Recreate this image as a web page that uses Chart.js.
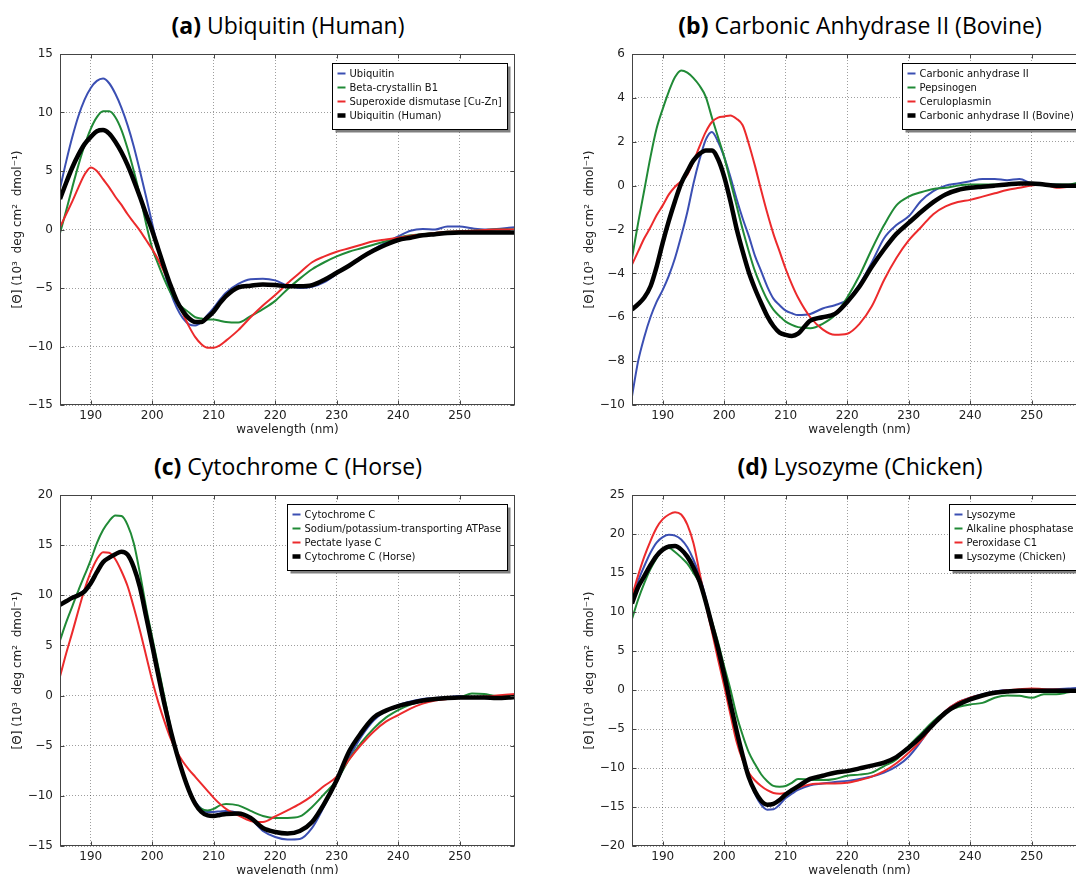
<!DOCTYPE html>
<html lang="en">
<head>
<meta charset="UTF-8">
<title>CD spectra comparison</title>
<script src="https://cdn.jsdelivr.net/npm/chart.js"></script>
<style>
  html, body {
    margin: 0;
    background: #fff;
    width: 1076px;
    height: 874px;
    overflow: hidden;
  }
  canvas {
    position: absolute;
    display: block;
  }
  .title {
    position: absolute;
    font-family: 'Open Sans', sans-serif;
    font-size: 23px;
    line-height: 30px;
    color: #000;
    white-space: nowrap;
    transform: translateX(-50%);
  }
  .title b { font-weight: 700; }
</style>
</head>
<body>
  <div class="title" style="left:288px; top:10px"><b>(a)</b> Ubiquitin (Human)</div>
  <div class="title" style="left:860px; top:10px"><b>(b)</b> Carbonic Anhydrase II (Bovine)</div>
  <div class="title" style="left:288px; top:451px"><b>(c)</b> Cytochrome C (Horse)</div>
  <div class="title" style="left:860px; top:451px"><b>(d)</b> Lysozyme (Chicken)</div>

  <canvas id="chartA" width="540" height="440" style="left:0; top:0"></canvas>
  <canvas id="chartB" width="540" height="440" style="left:572px; top:0"></canvas>
  <canvas id="chartC" width="540" height="440" style="left:0; top:441px"></canvas>
  <canvas id="chartD" width="540" height="440" style="left:572px; top:441px"></canvas>

  <script>
    // wavelength grid (nm), shared by every curve
    const wavelength = [
      185, 186, 187, 188, 189, 190, 191, 192, 193, 194, 195, 196, 197, 198,
      199, 200, 201, 202, 203, 204, 205, 206, 207, 208, 209, 210, 211, 212,
      214, 216, 218, 220, 222, 224, 226, 228, 230, 232, 234, 236, 238, 240,
      242, 244, 246, 248, 250, 252, 254, 256, 258, 259
    ];
    const xTicks = [190, 200, 210, 220, 230, 240, 250];

    // (a) Ubiquitin (Human)
    const ubiquitin = [
      3.5, 5.8, 7.9, 9.7, 11.1, 12.1, 12.7, 12.9, 12.5, 11.6, 10.4, 8.9, 7.1, 5.0,
      2.8, 0.5, -1.7, -3.7, -5.4, -6.7, -7.6, -8.1, -8.2, -7.9, -7.3, -6.7, -6.0, -5.4,
      -4.65, -4.25, -4.2, -4.35, -4.8, -5.0, -4.9, -4.5, -3.8, -3.1, -2.4, -1.7, -1.1, -0.6,
      -0.1, 0.05, 0.0, 0.25, 0.25, 0.1, 0.0, 0.05, 0.15, 0.2
    ];
    const betaCrystallin = [
      -0.3, 1.6, 3.6, 5.5, 7.2, 8.6, 9.6, 10.1, 10.1, 9.6, 8.5, 6.9, 5.0, 2.9,
      0.5, -1.6, -3.0, -4.3, -5.4, -6.2, -6.7, -7.1, -7.5, -7.6, -7.7, -7.7, -7.8, -7.9,
      -7.95, -7.4, -6.8, -6.1, -5.1, -4.2, -3.4, -2.8, -2.3, -1.9, -1.6, -1.3, -1.0, -0.7,
      -0.5, -0.4, -0.3, -0.2, -0.15, -0.1, -0.05, 0.0, 0.0, 0.0
    ];
    const superoxideDismutase = [
      0.2, 1.3, 2.4, 3.6, 4.7, 5.3, 5.0, 4.3, 3.6, 2.8, 2.1, 1.3, 0.6, -0.1,
      -0.9, -1.7, -2.6, -3.7, -4.8, -6.0, -7.2, -8.3, -9.2, -9.8, -10.1, -10.1, -9.9, -9.5,
      -8.6, -7.5, -6.5, -5.6, -4.6, -3.7, -2.8, -2.3, -1.9, -1.6, -1.3, -1.0, -0.85, -0.7,
      -0.55, -0.4, -0.3, -0.2, -0.15, -0.1, -0.05, 0.0, 0.0, 0.0
    ];
    const ubiquitinHuman = [
      2.6, 4.0, 5.3, 6.4, 7.3, 7.9, 8.4, 8.5, 8.2, 7.5, 6.6, 5.5, 4.2, 2.8,
      1.3, -0.1, -1.7, -3.3, -4.8, -6.1, -7.0, -7.6, -7.9, -7.9, -7.5, -7.0, -6.3, -5.7,
      -4.95, -4.8, -4.7, -4.75, -4.85, -4.85, -4.75, -4.3, -3.7, -3.1, -2.4, -1.8, -1.3, -0.9,
      -0.7, -0.5, -0.4, -0.3, -0.25, -0.25, -0.25, -0.25, -0.25, -0.25
    ];

    // (b) Carbonic Anhydrase II (Bovine)
    const carbonicAnhydrase = [
      -9.6, -8.0, -6.9, -6.0, -5.3, -4.75, -4.1, -3.3, -2.3, -1.2, 0.1, 1.2, 2.1, 2.45,
      2.0, 1.3, 0.4, -0.6, -1.5, -2.3, -3.2, -3.9, -4.6, -5.15, -5.45, -5.7, -5.82, -5.9,
      -5.85, -5.6, -5.45, -5.2, -4.5, -3.5, -2.4, -1.8, -1.4, -0.7, -0.25, 0.0, 0.1, 0.2,
      0.3, 0.3, 0.25, 0.3, 0.1, 0.05, 0.05, 0.0, 0.0, 0.0
    ];
    const pepsinogen = [
      -3.3, -1.7, -0.2, 1.3, 2.6, 3.5, 4.3, 4.95, 5.25, 5.15, 4.9, 4.55, 4.05, 3.1,
      2.2, 1.3, 0.2, -0.9, -2.0, -3.0, -3.9, -4.6, -5.2, -5.65, -5.95, -6.2, -6.35, -6.45,
      -6.5, -6.3, -5.9, -5.1, -4.1, -2.9, -1.8, -0.9, -0.5, -0.3, -0.15, -0.1, 0.0, 0.05,
      0.05, 0.05, 0.05, 0.1, 0.1, 0.05, 0.05, 0.05, 0.15, 0.1
    ];
    const ceruloplasmin = [
      -3.6, -3.0, -2.4, -1.9, -1.35, -0.9, -0.4, -0.05, 0.2, 0.5, 1.1, 1.8, 2.45, 2.9,
      3.1, 3.15, 3.2, 3.05, 2.75, 1.9, 0.9, -0.2, -1.25, -2.2, -3.0, -3.8, -4.5, -5.1,
      -6.0, -6.55, -6.8, -6.75, -6.3, -5.5, -4.3, -3.3, -2.5, -1.9, -1.3, -0.95, -0.75, -0.65,
      -0.5, -0.35, -0.2, -0.1, 0.0, 0.05, -0.1, -0.05, 0.0, 0.0
    ];
    const carbonicBovine = [
      -5.65, -5.4, -5.1, -4.6, -3.7, -2.6, -1.6, -0.7, 0.1, 0.65, 1.15, 1.45, 1.6, 1.6,
      1.2, 0.4, -0.7, -1.95, -3.0, -3.95, -4.7, -5.35, -5.95, -6.4, -6.7, -6.8, -6.85, -6.75,
      -6.15, -6.0, -5.85, -5.3, -4.6, -3.7, -2.9, -2.2, -1.7, -1.2, -0.75, -0.4, -0.2, -0.1,
      -0.05, 0.0, 0.05, 0.1, 0.1, 0.05, 0.0, 0.0, 0.0, 0.0
    ];

    // (c) Cytochrome C (Horse)
    const cytochromeC = [
      9.0, 9.4, 9.8, 10.1, 10.5, 11.2, 12.3, 13.3, 13.8, 14.1, 14.3, 14.0, 12.9, 11.0,
      8.2, 5.3, 2.3, -0.6, -3.3, -5.6, -7.6, -9.3, -10.6, -11.3, -11.6, -11.6, -11.55, -11.5,
      -11.7, -12.3, -13.5, -14.1, -14.35, -14.3, -13.2, -11.0, -8.6, -6.2, -4.1, -2.5, -1.5, -0.95,
      -0.6, -0.35, -0.25, -0.15, -0.05, -0.2, -0.2, -0.25, -0.2, -0.15
    ];
    const naKATPase = [
      5.5, 7.3, 8.9, 10.5, 12.0, 13.5, 15.2, 16.5, 17.4, 17.95, 17.9, 17.0, 15.2, 12.2,
      8.8, 5.8, 2.8, -0.2, -3.2, -5.9, -7.9, -9.6, -10.7, -11.3, -11.45, -11.3, -10.95, -10.8,
      -10.95, -11.5, -12.0, -12.2, -12.2, -12.05, -11.1, -9.8, -8.45, -6.4, -4.7, -3.3, -2.2, -1.45,
      -0.9, -0.55, -0.35, -0.2, -0.15, 0.2, 0.15, -0.05, 0.0, 0.05
    ];
    const pectateLyase = [
      1.9, 4.2, 6.3, 8.5, 10.6, 12.3, 13.6, 14.3, 14.25, 13.6, 12.4, 10.9, 8.8, 6.5,
      4.0, 1.5, -0.7, -2.6, -4.3, -5.6, -6.6, -7.4, -8.1, -8.8, -9.5, -10.2, -10.8, -11.3,
      -11.95, -12.5, -12.6, -12.05, -11.45, -10.8, -10.0, -9.0, -8.1, -6.4, -4.9, -3.6, -2.6, -1.95,
      -1.3, -0.8, -0.5, -0.35, -0.2, -0.15, -0.1, 0.0, 0.1, 0.15
    ];
    const cytochromeHorse = [
      9.05, 9.4, 9.75, 10.0, 10.4, 11.2, 12.3, 13.3, 13.75, 14.1, 14.35, 14.05, 12.8, 10.8,
      7.9, 5.0, 2.0, -0.9, -3.5, -5.8, -7.8, -9.5, -10.8, -11.6, -11.95, -12.0, -11.9, -11.8,
      -11.75, -12.2, -13.2, -13.6, -13.75, -13.5, -12.6, -10.75, -8.45, -5.6, -3.7, -2.2, -1.5, -1.05,
      -0.75, -0.5, -0.35, -0.25, -0.2, -0.2, -0.2, -0.25, -0.2, -0.15
    ];

    // (d) Lysozyme (Chicken)
    const lysozyme = [
      11.6, 14.0, 15.9, 17.6, 18.9, 19.6, 19.9, 19.8, 19.3, 18.3, 16.7, 14.6, 11.8, 8.3,
      4.8, 1.3, -2.2, -5.6, -8.6, -11.2, -13.3, -14.7, -15.35, -15.3, -14.7, -13.85, -13.3, -12.8,
      -12.2, -12.0, -11.8, -11.65, -11.4, -11.1, -10.6, -9.8, -8.55, -6.6, -4.4, -2.7, -1.6, -1.0,
      -0.55, -0.2, 0.0, 0.0, 0.0, 0.05, 0.1, 0.2, 0.3, 0.3
    ];
    const alkalinePhosphatase = [
      9.1, 11.6, 13.7, 15.5, 16.9, 18.0, 18.2, 17.7, 17.0, 16.2, 15.0, 13.7, 11.5, 8.8,
      6.1, 3.0, 0.1, -3.2, -5.8, -8.0, -9.5, -10.8, -11.7, -12.3, -12.4, -12.3, -11.9, -11.4,
      -11.5, -11.55, -11.4, -11.0, -10.85, -10.6, -9.75, -8.9, -7.2, -5.6, -4.0, -2.8, -2.2, -1.85,
      -1.65, -1.0, -0.7, -0.75, -1.0, -0.55, -0.55, -0.3, -0.1, -0.05
    ];
    const peroxidaseC1 = [
      12.0, 14.7, 17.1, 19.1, 20.8, 21.9, 22.5, 22.8, 22.5, 21.2, 18.8, 15.0, 11.0, 7.5,
      3.9, 0.5, -3.1, -6.6, -9.0, -10.6, -11.6, -12.3, -12.85, -13.2, -13.3, -13.2, -12.9, -12.55,
      -12.1, -12.0, -12.0, -11.9, -11.55, -11.1, -10.4, -9.4, -8.05, -6.5, -4.5, -2.7, -1.6, -1.0,
      -0.6, -0.25, -0.05, 0.1, 0.2, 0.1, 0.05, 0.0, 0.0, 0.0
    ];
    const lysozymeChicken = [
      11.1, 13.2, 14.6, 16.0, 17.2, 18.0, 18.4, 18.45, 18.0, 17.1, 15.7, 13.9, 11.3, 8.3,
      5.3, 1.95, -1.7, -5.2, -8.4, -11.2, -13.0, -14.2, -14.7, -14.6, -14.1, -13.4, -12.85, -12.35,
      -11.4, -11.0, -10.6, -10.4, -10.05, -9.7, -9.3, -8.6, -7.4, -6.0, -4.4, -2.9, -1.9, -1.2,
      -0.7, -0.35, -0.2, -0.1, -0.1, -0.1, -0.1, -0.1, -0.1, -0.1
    ];

    // y tick values for each panel
    const yTicksA = [-15, -10, -5, 0, 5, 10, 15];
    const yTicksB = [-10, -8, -6, -4, -2, 0, 2, 4, 6];
    const yTicksC = [-15, -10, -5, 0, 5, 10, 15, 20];
    const yTicksD = [-20, -15, -10, -5, 0, 5, 10, 15, 20, 25];

    const BLUE = '#3b4fb3';
    const GREEN = '#208a36';
    const RED = '#ec2a2c';
    const BLACK = '#000000';
    const TICK_FONT = { family: "'DejaVu Sans', sans-serif", size: 12 };
    const LABEL_FONT = { family: "'DejaVu Sans', sans-serif", size: 12 };
    const YLABEL = '[\u0398] (10\u00b3  deg cm\u00b2  dmol\u207b\u00b9)';

    // matplotlib-style legend box with shadow, inside the upper right corner
    const boxLegend = {
      id: 'boxLegend',
      afterDraw(chart) {
        const { ctx, chartArea: a } = chart;
        const sets = chart.data.datasets;
        ctx.save();
        ctx.font = "10px 'DejaVu Sans', sans-serif";
        const textW = Math.max(...sets.map(d => ctx.measureText(d.label).width));
        const w = Math.round(17 + textW + 6);
        const h = 14 * sets.length + 10;
        const x = Math.round(a.right - 8 - w) + 0.5;
        const y = Math.round(a.top + 9) + 0.5;
        ctx.fillStyle = 'rgba(0,0,0,0.5)';
        ctx.fillRect(x + 3, y + 3, w, h);
        ctx.fillStyle = '#fff';
        ctx.fillRect(x, y, w, h);
        ctx.strokeStyle = '#000';
        ctx.lineWidth = 1;
        ctx.strokeRect(x, y, w, h);
        ctx.textBaseline = 'middle';
        sets.forEach((d, i) => {
          const cy = y + 10 + i * 14;
          ctx.strokeStyle = d.borderColor;
          ctx.lineWidth = d.borderWidth;
          ctx.beginPath();
          ctx.moveTo(x + 5, cy);
          ctx.lineTo(x + 13, cy);
          ctx.stroke();
          ctx.fillStyle = '#111';
          ctx.fillText(d.label, x + 17, cy + 0.5);
        });
        ctx.restore();
      }
    };

    // full frame plus inward tick marks
    const frame = {
      id: 'frame',
      afterDatasetsDraw(chart) {
        const { ctx, chartArea: a, scales: { x, y } } = chart;
        const L = Math.round(a.left) + 0.5, R = Math.round(a.right) - 0.5;
        const T = Math.round(a.top) + 0.5, B = Math.round(a.bottom) - 0.5;
        ctx.save();
        ctx.strokeStyle = '#444';
        ctx.lineWidth = 1;
        ctx.beginPath();
        x.ticks.forEach(t => {
          const px = Math.round(x.getPixelForValue(t.value)) + 0.5;
          ctx.moveTo(px, B); ctx.lineTo(px, B - 4);
          ctx.moveTo(px, T); ctx.lineTo(px, T + 4);
        });
        y.ticks.forEach(t => {
          const py = Math.round(y.getPixelForValue(t.value)) + 0.5;
          ctx.moveTo(L, py); ctx.lineTo(L + 4, py);
          ctx.moveTo(R, py); ctx.lineTo(R - 4, py);
        });
        ctx.stroke();
        ctx.strokeRect(L, T, R - L, B - T);
        ctx.restore();
      }
    };

    function minusFmt(v) {
      return v < 0 ? '\u2212' + Math.abs(v) : String(v);
    }

    function buildChart(id, series, yTicks) {
      const datasets = series.map((s, i) => ({
        label: s.label,
        data: wavelength.map((w, k) => ({ x: w, y: s.values[k] })),
        borderColor: s.color,
        borderWidth: s.width,
        pointRadius: 0,
        fill: false,
        cubicInterpolationMode: 'monotone',
        borderJoinStyle: 'round',
        order: series.length - i
      }));
      return new Chart(document.getElementById(id), {
        type: 'line',
        data: { datasets },
        plugins: [frame, boxLegend],
        options: {
          responsive: false,
          animation: false,
          devicePixelRatio: 1,
          layout: { padding: { left: 0, right: 25, top: 54, bottom: 0 } },
          plugins: { legend: { display: false }, tooltip: { enabled: false } },
          scales: {
            x: {
              type: 'linear',
              min: 185,
              max: 259,
              afterBuildTicks: ax => { ax.ticks = xTicks.map(v => ({ value: v })); },
              afterFit: ax => { ax.height = 35; },
              grid: { color: 'rgba(0,0,0,0.38)', lineWidth: 1, drawTicks: false },
              border: { display: false, dash: [1, 2] },
              ticks: { padding: 4, color: '#222', font: TICK_FONT, maxRotation: 0 },
              title: {
                display: true, text: 'wavelength (nm)', color: '#222',
                font: LABEL_FONT, padding: { top: 0, bottom: 3 }
              }
            },
            y: {
              min: yTicks[0],
              max: yTicks[yTicks.length - 1],
              afterBuildTicks: ax => { ax.ticks = yTicks.map(v => ({ value: v })); },
              afterFit: ax => { ax.width = 60; },
              grid: { color: 'rgba(0,0,0,0.38)', lineWidth: 1, drawTicks: false },
              border: { display: false, dash: [1, 2] },
              ticks: { padding: 7, color: '#222', font: TICK_FONT, callback: minusFmt },
              title: {
                display: true, text: YLABEL, color: '#222',
                font: LABEL_FONT, padding: { top: 11, bottom: 0 }
              }
            }
          }
        }
      });
    }

    buildChart('chartA', [
      { label: 'Ubiquitin', values: ubiquitin, color: BLUE, width: 2 },
      { label: 'Beta-crystallin B1', values: betaCrystallin, color: GREEN, width: 2 },
      { label: 'Superoxide dismutase [Cu-Zn]', values: superoxideDismutase, color: RED, width: 2 },
      { label: 'Ubiquitin (Human)', values: ubiquitinHuman, color: BLACK, width: 4.5 }
    ], yTicksA);

    buildChart('chartB', [
      { label: 'Carbonic anhydrase II', values: carbonicAnhydrase, color: BLUE, width: 2 },
      { label: 'Pepsinogen', values: pepsinogen, color: GREEN, width: 2 },
      { label: 'Ceruloplasmin', values: ceruloplasmin, color: RED, width: 2 },
      { label: 'Carbonic anhydrase II (Bovine)', values: carbonicBovine, color: BLACK, width: 4.5 }
    ], yTicksB);

    buildChart('chartC', [
      { label: 'Cytochrome C', values: cytochromeC, color: BLUE, width: 2 },
      { label: 'Sodium/potassium-transporting ATPase', values: naKATPase, color: GREEN, width: 2 },
      { label: 'Pectate lyase C', values: pectateLyase, color: RED, width: 2 },
      { label: 'Cytochrome C (Horse)', values: cytochromeHorse, color: BLACK, width: 4.5 }
    ], yTicksC);

    buildChart('chartD', [
      { label: 'Lysozyme', values: lysozyme, color: BLUE, width: 2 },
      { label: 'Alkaline phosphatase', values: alkalinePhosphatase, color: GREEN, width: 2 },
      { label: 'Peroxidase C1', values: peroxidaseC1, color: RED, width: 2 },
      { label: 'Lysozyme (Chicken)', values: lysozymeChicken, color: BLACK, width: 4.5 }
    ], yTicksD);
  </script>
</body>
</html>
